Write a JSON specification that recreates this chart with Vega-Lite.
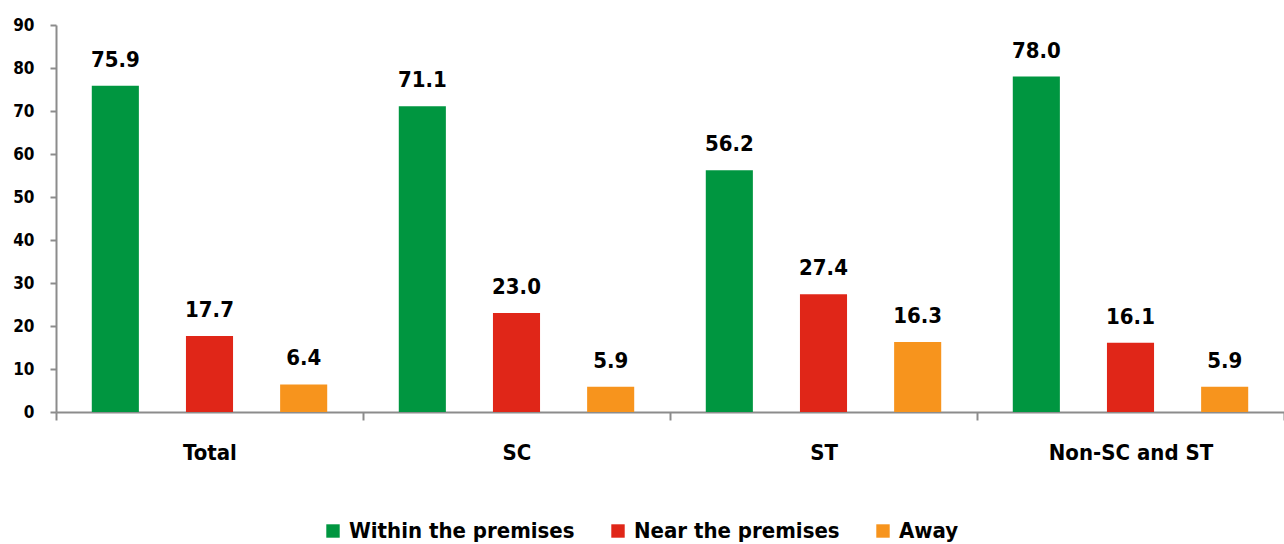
{
  "$schema": "https://vega.github.io/schema/vega-lite/v6.json",
  "width": 1228,
  "height": 387,
  "autosize": "none",
  "padding": {"left": 56, "top": 25, "right": 0, "bottom": 132},
  "background": "white",
  "data": {
    "values": [
      {"group": "Total", "type": "Within the premises", "value": 75.9},
      {"group": "Total", "type": "Near the premises", "value": 17.7},
      {"group": "Total", "type": "Away", "value": 6.4},
      {"group": "SC", "type": "Within the premises", "value": 71.1},
      {"group": "SC", "type": "Near the premises", "value": 23.0},
      {"group": "SC", "type": "Away", "value": 5.9},
      {"group": "ST", "type": "Within the premises", "value": 56.2},
      {"group": "ST", "type": "Near the premises", "value": 27.4},
      {"group": "ST", "type": "Away", "value": 16.3},
      {"group": "Non-SC and ST", "type": "Within the premises", "value": 78.0},
      {"group": "Non-SC and ST", "type": "Near the premises", "value": 16.1},
      {"group": "Non-SC and ST", "type": "Away", "value": 5.9}
    ]
  },
  "encoding": {
    "x": {
      "field": "group", "type": "nominal", "sort": null,
      "scale": {"paddingInner": 0, "paddingOuter": 0},
      "axis": {
        "title": null, "labelAngle": 0, "tickBand": "extent",
        "domainColor": "#8c8c8c", "domainWidth": 2, "tickColor": "#8c8c8c", "tickWidth": 2, "tickSize": 8,
        "labelFont": "DejaVu Sans Condensed, Liberation Sans, sans-serif", "labelFontWeight": "bold", "labelFontSize": 22, "labelColor": "#000000",
        "labelPadding": 22, "grid": false
      }
    },
    "xOffset": {
      "field": "type", "type": "nominal", "sort": ["Within the premises", "Near the premises", "Away"],
      "scale": {"paddingInner": 0.5, "paddingOuter": 0.38}
    },
    "y": {
      "field": "value", "type": "quantitative",
      "scale": {"domain": [0, 90], "nice": false},
      "axis": {
        "title": null, "values": [0,10,20,30,40,50,60,70,80,90], "grid": false,
        "domainColor": "#8c8c8c", "domainWidth": 2, "tickColor": "#8c8c8c", "tickWidth": 2, "tickSize": 6,
        "labelFont": "DejaVu Sans Condensed, Liberation Sans, sans-serif", "labelFontWeight": "bold", "labelFontSize": 17, "labelColor": "#000000",
        "labelPadding": 16
      }
    }
  },
  "layer": [
    {
      "mark": {"type": "bar"},
      "encoding": {
        "color": {
          "field": "type", "type": "nominal",
          "sort": ["Within the premises", "Near the premises", "Away"],
          "scale": {"domain": ["Within the premises", "Near the premises", "Away"], "range": ["#009640", "#E02618", "#F7941D"]},
          "legend": {
            "title": null, "orient": "none", "direction": "horizontal", "legendX": 266, "legendY": 495,
            "symbolType": "square", "symbolSize": 180, "symbolOpacity": 1, "symbolStrokeWidth": 0,
            "labelFont": "DejaVu Sans Condensed, Liberation Sans, sans-serif", "labelFontWeight": "bold", "labelFontSize": 22, "labelColor": "#000000",
            "columnPadding": 32, "labelOffset": 5, "labelLimit": 400
          }
        }
      }
    },
    {
      "mark": {"type": "text", "baseline": "bottom", "dy": -14, "font": "DejaVu Sans Condensed, Liberation Sans, sans-serif", "fontWeight": "bold", "fontSize": 22, "color": "#000000"},
      "encoding": {
        "text": {"field": "value", "type": "quantitative", "format": ".1f"}
      }
    }
  ],
  "config": {"view": {"stroke": null}}
}
